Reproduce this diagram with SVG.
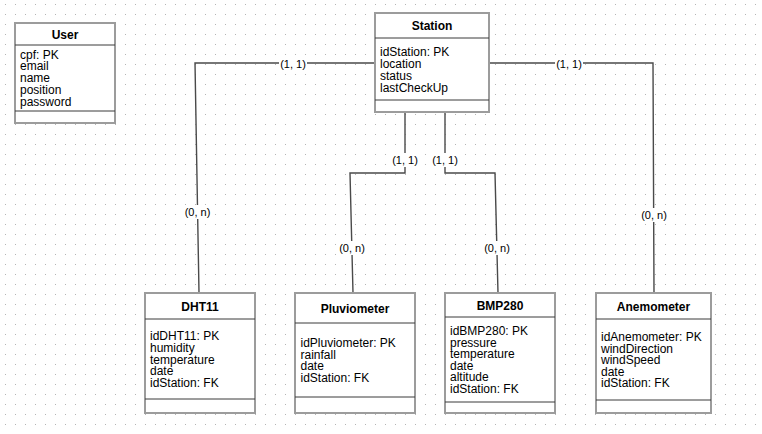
<svg xmlns="http://www.w3.org/2000/svg" width="762" height="434" viewBox="0 0 762 434">
<defs>
<pattern id="grid" x="0" y="0" width="10" height="10" patternUnits="userSpaceOnUse">
<rect x="5" y="4" width="1" height="1" fill="#b4b4b4"/>
</pattern>
<style>
.box{fill:#fff;stroke:#9c9c9c;stroke-width:2}
.sep{stroke:#3a3a3a;stroke-width:1}
.title{font-family:"Liberation Sans",Arial,sans-serif;font-size:12px;font-weight:bold;text-anchor:middle;fill:#000}
.attr{font-family:"Liberation Sans",Arial,sans-serif;font-size:12px;fill:#000}
.conn{fill:none;stroke:#4a4a4a;stroke-width:1.4}
.lbl{font-family:"Liberation Sans",Arial,sans-serif;font-size:11px;text-anchor:middle;fill:#000}
.lblbg{fill:#fff}
</style>
</defs>
<rect width="762" height="434" fill="#fff"/>
<rect width="762" height="434" fill="url(#grid)"/>

<g id="connectors">
<polyline class="conn" points="375,63 195,63 199,293"/>
<polyline class="conn" points="489,63 653,63 654,293"/>
<polyline class="conn" points="405,112 405,173 350,173 353,293"/>
<polyline class="conn" points="445,112 445,173 495,173 498,293"/>
<rect class="lblbg" x="279" y="57" width="28" height="14"/>
<text class="lbl" x="293" y="68">(1, 1)</text>
<rect class="lblbg" x="183" y="205" width="29" height="14"/>
<text class="lbl" x="197.5" y="216">(0, n)</text>
<rect class="lblbg" x="555" y="57" width="28" height="14"/>
<text class="lbl" x="569" y="68">(1, 1)</text>
<rect class="lblbg" x="639.5" y="208" width="29" height="14"/>
<text class="lbl" x="654" y="219">(0, n)</text>
<rect class="lblbg" x="391" y="153" width="28" height="14"/>
<text class="lbl" x="405" y="164">(1, 1)</text>
<rect class="lblbg" x="431" y="153" width="28" height="14"/>
<text class="lbl" x="445" y="164">(1, 1)</text>
<rect class="lblbg" x="337.5" y="241" width="29" height="14"/>
<text class="lbl" x="352" y="252">(0, n)</text>
<rect class="lblbg" x="482.5" y="241" width="29" height="14"/>
<text class="lbl" x="497" y="252">(0, n)</text>
</g>

<g id="user">
<rect class="box" x="15" y="23" width="100" height="100"/>
<line class="sep" x1="15" y1="45" x2="115" y2="45"/>
<line class="sep" x1="15" y1="111" x2="115" y2="111"/>
<text class="title" x="65" y="39">User</text>
<text class="attr" x="20" y="58.6"><tspan x="20">cpf: PK</tspan><tspan x="20" dy="11.8">email</tspan><tspan x="20" dy="11.8">name</tspan><tspan x="20" dy="11.8">position</tspan><tspan x="20" dy="11.8">password</tspan></text>
</g>

<g id="station">
<rect class="box" x="375" y="13" width="114" height="99"/>
<line class="sep" x1="375" y1="38" x2="489" y2="38"/>
<line class="sep" x1="375" y1="100" x2="489" y2="100"/>
<text class="title" x="432" y="29.5">Station</text>
<text class="attr" x="380" y="56.3"><tspan x="380">idStation: PK</tspan><tspan x="380" dy="11.8">location</tspan><tspan x="380" dy="11.8">status</tspan><tspan x="380" dy="11.8">lastCheckUp</tspan></text>
</g>

<g id="dht11">
<rect class="box" x="145" y="293" width="110" height="120"/>
<line class="sep" x1="145" y1="319" x2="255" y2="319"/>
<line class="sep" x1="145" y1="399" x2="255" y2="399"/>
<text class="title" x="200" y="311">DHT11</text>
<text class="attr" x="150" y="340.3"><tspan x="150">idDHT11: PK</tspan><tspan x="150" dy="11.7">humidity</tspan><tspan x="150" dy="11.7">temperature</tspan><tspan x="150" dy="11.7">date</tspan><tspan x="150" dy="11.7">idStation: FK</tspan></text>
</g>

<g id="pluviometer">
<rect class="box" x="295" y="293" width="120" height="120"/>
<line class="sep" x1="295" y1="323" x2="415" y2="323"/>
<line class="sep" x1="295" y1="397" x2="415" y2="397"/>
<text class="title" x="355" y="313">Pluviometer</text>
<text class="attr" x="300.5" y="347.3"><tspan x="300.5">idPluviometer: PK</tspan><tspan x="300.5" dy="11.5">rainfall</tspan><tspan x="300.5" dy="11.5">date</tspan><tspan x="300.5" dy="11.5">idStation: FK</tspan></text>
</g>

<g id="bmp280">
<rect class="box" x="445" y="293" width="110" height="120"/>
<line class="sep" x1="445" y1="317" x2="555" y2="317"/>
<line class="sep" x1="445" y1="402" x2="555" y2="402"/>
<text class="title" x="500" y="310">BMP280</text>
<text class="attr" x="450" y="335.3"><tspan x="450">idBMP280: PK</tspan><tspan x="450" dy="11.5">pressure</tspan><tspan x="450" dy="11.5">temperature</tspan><tspan x="450" dy="11.5">date</tspan><tspan x="450" dy="11.5">altitude</tspan><tspan x="450" dy="11.5">idStation: FK</tspan></text>
</g>

<g id="anemometer">
<rect class="box" x="596" y="293" width="115" height="120"/>
<line class="sep" x1="596" y1="319" x2="711" y2="319"/>
<line class="sep" x1="596" y1="400" x2="711" y2="400"/>
<text class="title" x="653.5" y="311">Anemometer</text>
<text class="attr" x="601" y="341.3"><tspan x="601">idAnemometer: PK</tspan><tspan x="601" dy="11.5">windDirection</tspan><tspan x="601" dy="11.5">windSpeed</tspan><tspan x="601" dy="11.5">date</tspan><tspan x="601" dy="11.5">idStation: FK</tspan></text>
</g>
</svg>
